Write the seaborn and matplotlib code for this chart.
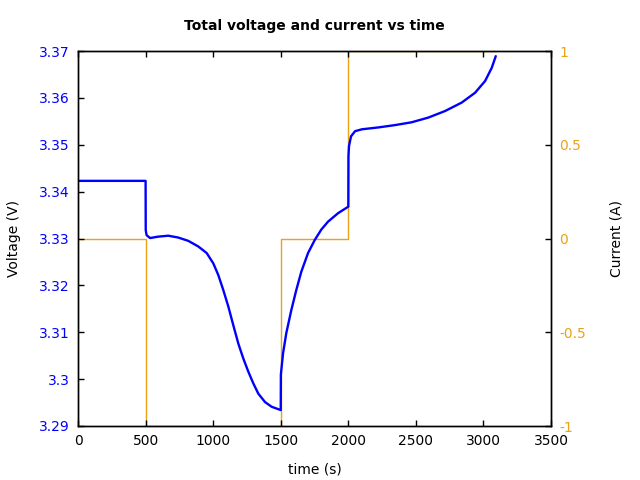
import matplotlib
matplotlib.use("Agg")
import matplotlib.pyplot as plt
import seaborn as sns
import pandas as pd

# Voltage data (time in s, voltage in V)
v_time = [0, 500, 501, 505, 508, 533, 594, 668, 742, 816, 890, 952, 1001, 1038, 1075, 1112,
          1149, 1186, 1223, 1260, 1297, 1334, 1384, 1433, 1500,
          1501, 1517, 1541, 1578, 1615, 1652, 1702, 1752, 1800, 1850, 1924, 2000,
          2001, 2005, 2020, 2050, 2100, 2222, 2346, 2469, 2592, 2716, 2839, 2938, 3012, 3061, 3091]
v_volt = [3.3423, 3.3423, 3.3318, 3.3311, 3.3307, 3.3301, 3.3304, 3.3306, 3.3302, 3.3295, 3.3283,
          3.3269, 3.3247, 3.3222, 3.3190, 3.3155, 3.3115, 3.3076, 3.3044, 3.3016, 3.2991, 3.2969,
          3.2951, 3.2941, 3.2934,
          3.3010, 3.3055, 3.3098, 3.3147, 3.3190, 3.3229, 3.3269, 3.3297, 3.3319, 3.3336, 3.3354, 3.3368,
          3.3475, 3.3497, 3.3518, 3.3529, 3.3533, 3.3537, 3.3542, 3.3548, 3.3558, 3.3572, 3.3590,
          3.3611, 3.3636, 3.3664, 3.3689]

# Current data (step, post)
i_time = [0, 500, 1500, 2000, 3091]
i_curr = [0, -1, 0, 1, 1]

x_ticks = [0, 500, 1000, 1500, 2000, 2500, 3000, 3500]
v_ticks = [3.29, 3.30, 3.31, 3.32, 3.33, 3.34, 3.35, 3.36, 3.37]
v_tick_labels = ["3.29", "3.3", "3.31", "3.32", "3.33", "3.34", "3.35", "3.36", "3.37"]
i_ticks = [-1, -0.5, 0, 0.5, 1]
i_tick_labels = ["-1", "-0.5", "0", "0.5", "1"]

sns.set_style("white")
plt.rcParams["font.family"] = ["DejaVu Sans"]
plt.rcParams["axes.unicode_minus"] = False
plt.rcParams["text.color"] = "black"
plt.rcParams["axes.labelcolor"] = "black"

BLUE = "#0000ff"
ORANGE = "#e8a317"

fig = plt.figure(figsize=(6.4, 4.8), dpi=100)
ax1 = fig.add_axes([0.1219, 0.1125, 0.7391, 0.7812])
ax2 = ax1.twinx()

vdf = pd.DataFrame({"time": v_time, "voltage": v_volt})
idf = pd.DataFrame({"time": i_time, "current": i_curr})

sns.lineplot(data=idf, x="time", y="current", ax=ax2, color=ORANGE, linewidth=1.0,
             drawstyle="steps-post", estimator=None, sort=False)
sns.lineplot(data=vdf, x="time", y="voltage", ax=ax1, color=BLUE, linewidth=1.7,
             estimator=None, sort=False)

ax1.set_zorder(ax2.get_zorder() + 1)
ax1.patch.set_visible(False)

ax1.set_xlim(0, 3500)
ax1.set_ylim(3.29, 3.37)
ax2.set_ylim(-1, 1)

ax1.set_xticks(x_ticks)
ax1.set_xticklabels([str(t) for t in x_ticks])
ax1.set_yticks(v_ticks)
ax1.set_yticklabels(v_tick_labels)
ax2.set_yticks(i_ticks)
ax2.set_yticklabels(i_tick_labels)

ax1.tick_params(axis="x", direction="in", top=True, bottom=True, length=4, width=1,
                labelsize=10, pad=6, colors="black")
ax1.tick_params(axis="y", direction="in", left=True, right=False, length=4, width=1,
                labelsize=10, pad=6, labelcolor=BLUE, color="black")
ax2.tick_params(axis="y", direction="in", right=True, left=False, length=4, width=1,
                labelsize=10, pad=6, labelcolor=ORANGE, color="black")

for ax in (ax1, ax2):
    for s in ax.spines.values():
        s.set_visible(True)
        s.set_color("black")
        s.set_linewidth(1.0)

ax1.set_xlabel("time (s)", fontsize=10, labelpad=10, color="black")
ax1.set_ylabel("Voltage (V)", fontsize=10, labelpad=13, color="black")
ax2.set_ylabel("Current (A)", fontsize=10, labelpad=17, color="black")
ax1.set_title("Total voltage and current vs time", fontsize=10, fontweight="bold",
              pad=15, color="black")

fig.savefig("out.png", dpi=100)
